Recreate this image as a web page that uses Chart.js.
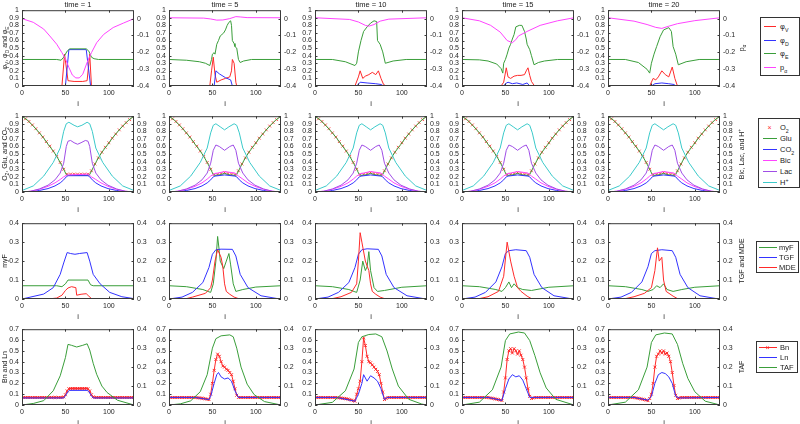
<!DOCTYPE html>
<html><head><meta charset="utf-8">
<script src="https://cdn.jsdelivr.net/npm/chart.js@4.4.0/dist/chart.umd.min.js"></script>
<style>
body{margin:0;background:#fff;width:800px;height:424px;overflow:hidden;position:relative;font-family:"Liberation Sans",Arial,sans-serif;}
canvas{position:absolute;}
.ttl{position:absolute;font-size:7.5px;color:#1a1a1a;text-align:center;width:112px;line-height:9px;}
.yl{position:absolute;font-size:7px;color:#1a1a1a;white-space:nowrap;transform:translate(-50%,-50%) rotate(-90deg);line-height:8px;}
.lg{position:absolute;border:1px solid #333;background:#fff;font-size:7.5px;color:#1a1a1a;box-sizing:border-box;}
.lg .e{position:absolute;left:0;height:9px;line-height:9px;white-space:nowrap;}
.lg .s{position:absolute;top:4px;height:1px;}
.lg .t{position:absolute;top:0;}
sub,sup{font-size:70%;line-height:0;}
</style></head><body>
<script>
// ---------- tick labels ----------
const xTicks = [0, 50, 100];
const ticks01 = [0, 0.1, 0.2, 0.3, 0.4, 0.5, 0.6, 0.7, 0.8, 0.9, 1];
const ticksP = [-0.4, -0.3, -0.2, -0.1, 0];
const ticks04 = [0, 0.1, 0.2, 0.3, 0.4];
const ticks07 = [0, 0.1, 0.2, 0.3, 0.4, 0.5, 0.6, 0.7];
const times = ['time = 1', 'time = 5', 'time = 10', 'time = 15', 'time = 20'];

// ---------- row 1: phiV, phiD, phiE (left), p_alpha (right) ----------
const phiV_t1 = [[0,0],[46,0],[49,0.42],[53,0.07],[60,0.06],[70,0.06],[75,0.07],[78,0.42],[80,0],[129,0]];
const phiD_t1 = [[0,0],[50,0],[54,0.48],[74,0.48],[79,0],[129,0]];
const phiE_t1 = [[0,0.35],[40,0.35],[45,0.34],[48,0.38],[52,0.46],[55,0.49],[74,0.49],[77,0.46],[80,0.38],[83,0.36],[88,0.35],[129,0.35]];
const pa_t1 = [[0,0.0],[13,-0.022],[25,-0.062],[32,-0.103],[40,-0.152],[46,-0.202],[50,-0.238],[54,-0.29],[58,-0.335],[62,-0.352],[66,-0.352],[70,-0.33],[75,-0.26],[80,-0.202],[86,-0.143],[94,-0.094],[105,-0.053],[117,-0.026],[129,0.0]];

const phiV_t5 = [[0,0],[47,0],[49,0.2],[51,0.38],[53,0.15],[55,0.05],[60,0.08],[65,0.1],[70,0.12],[72,0.2],[73,0.35],[75,0.3],[77,0.05],[78,0],[129,0]];
const phiD_t5 = [[0,0],[52,0],[54,0.2],[58,0.16],[65,0.11],[71,0.08],[73,0],[129,0]];
const phiE_t5 = [[0,0.35],[20,0.34],[35,0.32],[42,0.3],[47,0.27],[49,0.35],[50,0.42],[52,0.44],[53,0.42],[55,0.55],[57,0.6],[59,0.66],[61,0.68],[63,0.7],[65,0.74],[67,0.8],[69,0.84],[71,0.86],[72,0.8],[73,0.6],[75,0.56],[76,0.52],[78,0.5],[80,0.35],[82,0.31],[86,0.33],[95,0.35],[129,0.35]];
const pa_t5 = [[0,0.005],[40,0.003],[48,-0.002],[55,-0.009],[62,-0.008],[70,0.0],[77,0.012],[82,0.01],[90,0.006],[129,0.005]];

const phiV_t10 = [[0,0],[46,0],[50,0.12],[52,0.2],[55,0.1],[58,0.13],[62,0.15],[66,0.18],[70,0.15],[73,0.2],[76,0.1],[79,0.02],[82,0],[129,0]];
const phiD_t10 = [[0,0],[48,0],[52,0.05],[60,0.04],[70,0.03],[76,0.02],[79,0],[129,0]];
const phiE_t10 = [[0,0.35],[20,0.35],[35,0.32],[46,0.27],[48,0.3],[50,0.45],[53,0.6],[56,0.72],[60,0.78],[64,0.83],[68,0.86],[71,0.85],[72,0.6],[75,0.55],[78,0.45],[81,0.3],[90,0.33],[105,0.35],[129,0.35]];
const pa_t10 = [[0,0.005],[40,-0.005],[50,-0.02],[58,-0.04],[62,-0.045],[68,-0.035],[75,-0.015],[85,-0.003],[129,0.005]];

const phiV_t15 = [[0,0],[45,0],[48,0.05],[51,0.24],[53,0.12],[56,0.1],[60,0.13],[64,0.14],[68,0.14],[72,0.15],[74,0.2],[76,0.24],[78,0.14],[80,0.06],[83,0.01],[84,0],[129,0]];
const phiD_t15 = [[0,0],[48,0],[50,0.03],[53,0.05],[58,0.03],[63,0.04],[70,0.02],[75,0.04],[78,0],[129,0]];
const phiE_t15 = [[0,0.35],[20,0.345],[30,0.33],[40,0.29],[45,0.23],[47,0.17],[48,0.3],[50,0.35],[52,0.42],[54,0.5],[56,0.55],[58,0.62],[60,0.68],[62,0.78],[66,0.8],[69,0.8],[72,0.72],[74,0.62],[75,0.55],[78,0.48],[80,0.4],[83,0.28],[88,0.31],[95,0.33],[110,0.35],[129,0.35]];
const pa_t15 = [[0,0.005],[20,-0.013],[33,-0.04],[44,-0.08],[52,-0.13],[58,-0.143],[62,-0.125],[65,-0.103],[75,-0.076],[90,-0.04],[110,-0.013],[129,0.005]];

const phiV_t20 = [[0,0],[48,0],[52,0.1],[55,0.08],[58,0.12],[62,0.2],[66,0.15],[70,0.12],[74,0.25],[77,0.1],[80,0],[129,0]];
const phiD_t20 = [[0,0],[50,0],[54,0.03],[62,0.04],[70,0.03],[76,0.02],[78,0],[129,0]];
const phiE_t20 = [[0,0.35],[20,0.35],[35,0.31],[45,0.22],[48,0.17],[50,0.3],[53,0.42],[56,0.52],[60,0.65],[64,0.74],[70,0.77],[73,0.72],[75,0.52],[78,0.42],[81,0.28],[90,0.32],[105,0.35],[129,0.35]];
const pa_t20 = [[0,0.005],[30,-0.015],[45,-0.035],[55,-0.052],[62,-0.058],[70,-0.045],[80,-0.03],[100,-0.012],[129,0.005]];

// ---------- row 2: O2, Glu, CO2 (left), Bic, Lac, H+ (right) ----------
const I4 = [0,4,8,12,16,20,24,28,32,36,40,44,48,52,56,60,64,68,72,76,80,84,88,92,96,100,104,108,112,116,120,124,128];
const O2_t1  = [1.0,0.965,0.93,0.885,0.835,0.78,0.725,0.665,0.605,0.54,0.47,0.39,0.3,0.235,0.235,0.235,0.235,0.235,0.235,0.235,0.28,0.37,0.45,0.525,0.59,0.65,0.71,0.765,0.82,0.87,0.915,0.955,0.995];
const O2_t5  = [1.0,0.965,0.93,0.885,0.835,0.78,0.725,0.665,0.605,0.54,0.47,0.39,0.3,0.23,0.235,0.245,0.255,0.245,0.235,0.23,0.28,0.37,0.45,0.525,0.59,0.65,0.71,0.765,0.82,0.87,0.915,0.955,0.995];
const O2_t10 = [1.0,0.965,0.93,0.885,0.835,0.78,0.725,0.665,0.605,0.54,0.47,0.39,0.3,0.23,0.235,0.245,0.255,0.245,0.235,0.23,0.28,0.37,0.45,0.525,0.59,0.65,0.71,0.765,0.82,0.87,0.915,0.955,0.995];
const O2_t15 = [1.0,0.965,0.93,0.885,0.835,0.78,0.725,0.665,0.605,0.54,0.47,0.39,0.3,0.23,0.235,0.245,0.255,0.245,0.235,0.23,0.28,0.37,0.45,0.525,0.59,0.65,0.71,0.765,0.82,0.87,0.915,0.955,0.995];
const O2_t20 = [1.0,0.965,0.93,0.885,0.835,0.78,0.725,0.665,0.605,0.54,0.47,0.39,0.3,0.23,0.235,0.245,0.255,0.245,0.235,0.23,0.28,0.37,0.45,0.525,0.59,0.65,0.71,0.765,0.82,0.87,0.915,0.955,0.995];

const Glu_t1 = [[0,1.0],[6,0.95],[13,0.87],[20,0.78],[25,0.71],[30,0.63],[36,0.54],[40,0.47],[44,0.39],[48,0.3],[51,0.23],[53,0.22],[76,0.22],[78,0.23],[81,0.3],[85,0.39],[89,0.47],[93,0.54],[99,0.63],[104,0.71],[109,0.78],[116,0.87],[123,0.95],[129,1.0]];
const Glu_t5 = [[0,1.0],[6,0.95],[13,0.87],[20,0.78],[25,0.71],[30,0.63],[36,0.54],[40,0.47],[44,0.39],[48,0.3],[51,0.23],[53,0.22],[58,0.225],[64,0.245],[70,0.225],[76,0.22],[78,0.23],[81,0.3],[85,0.39],[89,0.47],[93,0.54],[99,0.63],[104,0.71],[109,0.78],[116,0.87],[123,0.95],[129,1.0]];
const Glu_t10 = Glu_t5.map(p => p.slice());
const Glu_t15 = Glu_t5.map(p => p.slice());
const Glu_t20 = Glu_t5.map(p => p.slice());

const CO2_t1 = [[0,0],[10,0.005],[20,0.02],[30,0.045],[38,0.08],[44,0.12],[48,0.16],[51,0.2],[53,0.215],[76,0.215],[78,0.2],[81,0.16],[85,0.12],[91,0.08],[99,0.045],[109,0.02],[119,0.005],[129,0]];
const CO2_t5 = [[0,0],[10,0.005],[20,0.02],[30,0.045],[38,0.08],[44,0.12],[48,0.16],[51,0.2],[53,0.21],[64,0.225],[76,0.21],[78,0.2],[81,0.16],[85,0.12],[91,0.08],[99,0.045],[109,0.02],[119,0.005],[129,0]];
const CO2_t10 = CO2_t5, CO2_t15 = CO2_t5, CO2_t20 = CO2_t5;

const Bic_t1 = [[0,0],[10,0.01],[20,0.035],[30,0.075],[38,0.12],[44,0.165],[48,0.2],[52,0.225],[64,0.23],[76,0.235],[80,0.2],[85,0.165],[91,0.12],[99,0.075],[109,0.035],[119,0.01],[129,0]];
const Bic_t5 = [[0,0],[10,0.01],[20,0.035],[30,0.075],[38,0.12],[44,0.17],[48,0.21],[52,0.24],[64,0.27],[76,0.25],[80,0.21],[85,0.17],[91,0.12],[99,0.075],[109,0.035],[119,0.01],[129,0]];
const Bic_t10 = Bic_t5, Bic_t15 = Bic_t5, Bic_t20 = Bic_t5;

const Lac_t1 = [[0,0],[10,0.01],[20,0.04],[30,0.09],[38,0.16],[44,0.25],[48,0.38],[51,0.6],[53,0.67],[56,0.68],[60,0.65],[64,0.63],[68,0.65],[73,0.68],[76,0.67],[78,0.6],[81,0.38],[85,0.25],[91,0.16],[99,0.09],[109,0.04],[119,0.01],[129,0]];
const Lac_t5 = [[0,0],[10,0.01],[20,0.04],[30,0.09],[38,0.16],[44,0.25],[48,0.38],[51,0.55],[54,0.62],[58,0.6],[64,0.55],[70,0.6],[74,0.62],[77,0.55],[80,0.38],[85,0.25],[91,0.16],[99,0.09],[109,0.04],[119,0.01],[129,0]];
const Lac_t10 = Lac_t5, Lac_t15 = Lac_t5, Lac_t20 = Lac_t5;

const H_t1 = [[0,0.02],[13,0.08],[25,0.21],[36,0.39],[44,0.58],[48,0.8],[51,0.9],[54,0.92],[60,0.88],[64,0.86],[69,0.88],[75,0.92],[78,0.9],[81,0.8],[85,0.58],[93,0.39],[104,0.21],[116,0.08],[129,0.02]];
const H_t5 = [[0,0.02],[13,0.08],[25,0.21],[36,0.39],[44,0.58],[48,0.78],[51,0.88],[54,0.9],[59,0.86],[64,0.82],[69,0.86],[75,0.9],[78,0.88],[81,0.78],[85,0.58],[93,0.39],[104,0.21],[116,0.08],[129,0.02]];
const H_t10 = H_t5, H_t15 = H_t5, H_t20 = H_t5;

// ---------- row 3: myF (left), TGF, MDE (right) ----------
const myF_t1 = [[0,0.07],[40,0.07],[46,0.065],[50,0.08],[53,0.1],[76,0.1],[79,0.075],[82,0.07],[129,0.07]];
const TGF_t1 = [[0,0],[25,0.026],[36,0.06],[44,0.13],[48,0.19],[52,0.245],[56,0.24],[61,0.236],[66,0.24],[75,0.245],[78,0.2],[82,0.13],[90,0.08],[101,0.035],[115,0.012],[129,0.002]];
const MDE_t1 = [[0,0],[30,0],[40,0.005],[46,0.02],[50,0.045],[53,0.058],[57,0.065],[62,0.06],[63,0.02],[68,0.025],[74,0.028],[77,0.015],[80,0.002],[129,0]];

const myF_t5 = [[0,0.07],[20,0.065],[39,0.05],[46,0.038],[48,0.035],[51,0.08],[54,0.2],[56,0.33],[58,0.25],[59,0.2],[63,0.16],[66,0.2],[69,0.24],[71,0.18],[74,0.08],[77,0.04],[85,0.05],[100,0.063],[129,0.07]];
const TGF_t5 = [[0,0],[15,0.01],[27,0.035],[39,0.087],[46,0.166],[50,0.236],[54,0.26],[60,0.263],[73,0.262],[77,0.227],[82,0.13],[91,0.06],[106,0.017],[125,0.002],[129,0]];
const MDE_t5 = [[0,0],[20,0.002],[27,0.01],[42,0.03],[48,0.06],[50,0.1],[53,0.2],[56,0.26],[60,0.22],[62,0.17],[64,0.08],[66,0.04],[70,0.025],[75,0.01],[80,0.002],[129,0]];

const myF_t10 = [[0,0.07],[20,0.065],[39,0.05],[46,0.038],[48,0.035],[52,0.1],[55,0.2],[58,0.15],[60,0.17],[62,0.25],[64,0.15],[68,0.06],[72,0.04],[80,0.045],[100,0.062],[129,0.07]];
const TGF_t10 = [[0,0],[15,0.01],[27,0.035],[39,0.087],[46,0.166],[50,0.236],[54,0.26],[60,0.265],[73,0.262],[77,0.227],[82,0.13],[91,0.06],[106,0.017],[125,0.002],[129,0]];
const MDE_t10 = [[0,0],[20,0.002],[30,0.012],[42,0.035],[48,0.08],[50,0.2],[52,0.35],[54,0.3],[58,0.2],[62,0.15],[64,0.08],[66,0.04],[70,0.025],[75,0.01],[80,0.002],[129,0]];

const myF_t15 = [[0,0.07],[20,0.065],[39,0.05],[46,0.04],[50,0.06],[54,0.09],[57,0.06],[60,0.08],[64,0.06],[70,0.05],[80,0.045],[100,0.062],[129,0.07]];
const TGF_t15 = [[0,0],[15,0.01],[27,0.035],[39,0.09],[46,0.17],[50,0.24],[54,0.255],[62,0.26],[74,0.255],[78,0.22],[83,0.13],[92,0.06],[106,0.017],[125,0.002],[129,0]];
const MDE_t15 = [[0,0],[20,0.002],[30,0.012],[42,0.04],[48,0.12],[52,0.3],[54,0.25],[56,0.2],[60,0.12],[64,0.06],[68,0.04],[75,0.015],[80,0.002],[129,0]];

const myF_t20 = [[0,0.07],[20,0.065],[39,0.05],[46,0.04],[52,0.05],[56,0.07],[60,0.06],[64,0.08],[68,0.05],[75,0.04],[85,0.05],[100,0.062],[129,0.07]];
const TGF_t20 = [[0,0],[15,0.01],[27,0.035],[39,0.09],[46,0.17],[50,0.24],[54,0.255],[62,0.26],[74,0.255],[78,0.22],[83,0.13],[92,0.06],[106,0.017],[125,0.002],[129,0]];
const MDE_t20 = [[0,0],[20,0.002],[30,0.012],[42,0.03],[50,0.06],[54,0.15],[57,0.27],[59,0.2],[62,0.22],[64,0.1],[67,0.04],[75,0.015],[80,0.002],[129,0]];

// ---------- row 4: Bn, Ln (left), TAF (right) ----------
const I2 = [0,2,4,6,8,10,12,14,16,18,20,22,24,26,28,30,32,34,36,38,40,42,44,46,48,50,52,54,56,58,60,62,64,66,68,70,72,74,76,78,80,82,84,86,88,90,92,94,96,98,100,102,104,106,108,110,112,114,116,118,120,122,124,126,128];
const Bn_t1 = [0.07,0.07,0.07,0.07,0.07,0.07,0.07,0.07,0.07,0.07,0.07,0.07,0.07,0.07,0.07,0.07,0.07,0.07,0.07,0.07,0.07,0.07,0.07,0.07,
  0.075,0.095,0.13,0.15,0.152,0.153,0.153,0.153,0.153,0.153,0.153,0.153,0.153,0.153,0.15,0.13,0.095,0.075,
  0.07,0.07,0.07,0.07,0.07,0.07,0.07,0.07,0.07,0.07,0.07,0.07,0.07,0.07,0.07,0.07,0.07,0.07,0.07,0.07,0.07,0.07,0.07];
const Bn_t5 = [0.07,0.07,0.07,0.07,0.07,0.07,0.07,0.07,0.07,0.07,0.07,0.07,0.07,0.07,0.07,0.07,
  0.068,0.066,0.064,0.062,0.06,0.057,0.053,0.05,
  0.1,0.2,0.32,0.42,0.47,0.45,0.4,0.36,0.35,0.33,0.32,0.3,0.28,0.22,0.15,0.09,0.07,0.07,
  0.07,0.07,0.07,0.07,0.07,0.07,0.07,0.07,0.07,0.07,0.07,0.07,0.07,0.07,0.07,0.07,0.07,0.07,0.07,0.07,0.07,0.07,0.07];
const Bn_t10 = [0.07,0.07,0.07,0.07,0.07,0.07,0.07,0.07,0.07,0.07,0.07,0.07,0.07,
  0.068,0.066,0.064,0.062,0.06,0.057,0.054,0.05,0.045,0.04,0.035,
  0.1,0.15,0.22,0.4,0.62,0.55,0.45,0.4,0.39,0.37,0.35,0.33,0.31,0.28,0.2,0.12,0.05,0.06,
  0.07,0.07,0.07,0.07,0.07,0.07,0.07,0.07,0.07,0.07,0.07,0.07,0.07,0.07,0.07,0.07,0.07,0.07,0.07,0.07,0.07,0.07,0.07];
const Bn_t15 = [0.07,0.07,0.07,0.07,0.07,0.07,0.07,0.07,0.07,0.07,0.07,0.07,0.07,0.07,0.07,0.07,
  0.066,0.063,0.06,0.057,0.054,0.05,0.046,0.042,
  0.12,0.25,0.42,0.5,0.52,0.48,0.52,0.5,0.47,0.5,0.46,0.42,0.35,0.25,0.15,0.08,0.06,0.065,
  0.07,0.07,0.07,0.07,0.07,0.07,0.07,0.07,0.07,0.07,0.07,0.07,0.07,0.07,0.07,0.07,0.07,0.07,0.07,0.07,0.07,0.07,0.07];
const Bn_t20 = [0.07,0.07,0.07,0.07,0.07,0.07,0.07,0.07,0.07,0.07,0.07,0.07,0.07,0.07,0.07,0.07,
  0.066,0.063,0.06,0.057,0.054,0.05,0.045,0.04,
  0.06,0.1,0.2,0.35,0.45,0.47,0.5,0.48,0.5,0.47,0.48,0.45,0.4,0.3,0.18,0.09,0.06,0.065,
  0.07,0.07,0.07,0.07,0.07,0.07,0.07,0.07,0.07,0.07,0.07,0.07,0.07,0.07,0.07,0.07,0.07,0.07,0.07,0.07,0.07,0.07,0.07];

const Ln_t1 = [[0,0.065],[48,0.065],[50,0.085],[53,0.125],[55,0.135],[75,0.135],[77,0.125],[80,0.085],[82,0.065],[129,0.065]];
const Ln_t5 = [[0,0.07],[30,0.07],[46,0.05],[48,0.08],[52,0.2],[55,0.28],[57,0.3],[60,0.26],[64,0.24],[68,0.25],[72,0.22],[76,0.13],[80,0.07],[129,0.07]];
const Ln_t10 = [[0,0.07],[25,0.07],[46,0.035],[50,0.1],[54,0.2],[56,0.28],[60,0.22],[64,0.27],[68,0.25],[72,0.22],[76,0.15],[80,0.05],[83,0.07],[129,0.07]];
const Ln_t15 = [[0,0.07],[30,0.07],[46,0.042],[50,0.15],[54,0.24],[58,0.28],[62,0.26],[66,0.27],[70,0.23],[74,0.15],[78,0.07],[129,0.07]];
const Ln_t20 = [[0,0.07],[30,0.07],[46,0.045],[50,0.08],[54,0.2],[58,0.28],[62,0.3],[66,0.29],[70,0.26],[74,0.2],[78,0.08],[82,0.065],[129,0.07]];

const TAF_t1 = [[0,0],[13,0.008],[25,0.023],[36,0.075],[44,0.154],[50,0.25],[53,0.32],[57,0.315],[63,0.306],[70,0.315],[75,0.323],[78,0.29],[82,0.22],[86,0.162],[92,0.1],[98,0.066],[110,0.025],[129,0]];
const TAF_t5 = [[0,0],[13,0.006],[25,0.022],[36,0.07],[44,0.16],[50,0.3],[54,0.35],[60,0.365],[70,0.37],[74,0.36],[78,0.3],[83,0.2],[90,0.11],[98,0.055],[110,0.018],[129,0]];
const TAF_t10 = [[0,0],[20,0.014],[35,0.075],[45,0.19],[50,0.33],[54,0.36],[62,0.372],[70,0.375],[77,0.36],[83,0.285],[89,0.19],[96,0.1],[108,0.03],[123,0.005],[129,0]];
const TAF_t15 = [[0,0],[20,0.015],[35,0.08],[45,0.2],[50,0.34],[55,0.375],[65,0.385],[72,0.38],[78,0.34],[84,0.26],[90,0.17],[97,0.09],[108,0.03],[129,0]];
const TAF_t20 = [[0,0],[20,0.015],[35,0.08],[45,0.2],[50,0.33],[55,0.37],[65,0.38],[74,0.375],[80,0.32],[86,0.22],[92,0.14],[100,0.07],[112,0.02],[129,0]];

// ---------- drawing ----------
const RED='#ff2a2a', BLUE='#3333ff', GREEN='#3a9e3a', MAG='#ff44ff', PURP='#a04ee6', CYAN='#3ccaca';
const COLX=[22,169,315,462,608], ROWY=[9,115,222,328];
const PW=112, PH=77, PADL=24, PADR=26, PADT=6, PADB=24;
const FONT={family:'"Liberation Sans", Arial, sans-serif', size:7};
const TXT='#262626';

const frame = {
  id:'frame',
  afterDraw(chart){
    const ctx=chart.ctx, a=chart.chartArea;
    ctx.save();
    ctx.strokeStyle='#3a3a3a'; ctx.lineWidth=1;
    ctx.strokeRect(a.left+0.5,a.top+0.5,a.right-a.left-1,a.bottom-a.top-1);
    ctx.beginPath();
    const tl=2.5;
    const sx=chart.scales.x;
    sx.ticks.forEach(t=>{const p=Math.round(sx.getPixelForValue(t.value))+0.5; ctx.moveTo(p,a.bottom); ctx.lineTo(p,a.bottom-tl); ctx.moveTo(p,a.top); ctx.lineTo(p,a.top+tl);});
    const yl=chart.scales.yL;
    yl.ticks.forEach(t=>{const p=Math.round(yl.getPixelForValue(t.value))+0.5; ctx.moveTo(a.left,p); ctx.lineTo(a.left+tl,p);});
    const yr=chart.scales.yR;
    yr.ticks.forEach(t=>{const p=Math.round(yr.getPixelForValue(t.value))+0.5; ctx.moveTo(a.right,p); ctx.lineTo(a.right-tl,p);});
    ctx.stroke();
    ctx.restore();
  }
};

function yScale(pos,min,max,ticks,w){
  return {type:'linear',position:pos,min,max,
    afterBuildTicks:s=>{s.ticks=ticks.map(v=>({value:v}));},
    afterFit:s=>{s.width=w;},
    grid:{display:false,drawTicks:false},border:{display:false},
    ticks:{font:FONT,color:TXT,padding:3,autoSkip:false,callback:v=>String(v)}};
}

function chart(col,row,datasets,yl,yr){
  const c=document.createElement('canvas');
  c.width=PADL+PW+PADR; c.height=PADT+PH+PADB;
  c.style.left=(COLX[col]-PADL)+'px'; c.style.top=(ROWY[row]-PADT)+'px';
  document.body.appendChild(c);
  new Chart(c,{type:'line',data:{datasets},
    options:{responsive:false,animation:false,devicePixelRatio:1,
      layout:{padding:{top:PADT,left:0,right:0,bottom:0}},
      plugins:{legend:{display:false},tooltip:{enabled:false}},
      elements:{line:{borderWidth:1,tension:0},point:{radius:0}},
      scales:{
        x:{type:'linear',min:0,max:129,
          afterBuildTicks:s=>{s.ticks=xTicks.map(v=>({value:v}));},
          afterFit:s=>{s.height=PADB;},
          grid:{display:false,drawTicks:false},border:{display:false},
          ticks:{font:FONT,color:TXT,padding:3,maxRotation:0,autoSkip:false,callback:v=>String(v)},
          title:{display:true,text:'i',font:{family:FONT.family,size:7.5},color:TXT,padding:{top:0,bottom:2}}},
        yL:yScale('left',yl[0],yl[1],yl[2],PADL),
        yR:yScale('right',yr[0],yr[1],yr[2],PADR)
      }},
    plugins:[frame]});
}

function ln(data,color,axis){return {data,borderColor:color,backgroundColor:color,yAxisID:axis,pointRadius:0,borderWidth:1,fill:false};}
function grid(xs,ys){return xs.map((x,k)=>({x,y:ys[k]}));}

const R1=[[phiV_t1,phiD_t1,phiE_t1,pa_t1],[phiV_t5,phiD_t5,phiE_t5,pa_t5],[phiV_t10,phiD_t10,phiE_t10,pa_t10],[phiV_t15,phiD_t15,phiE_t15,pa_t15],[phiV_t20,phiD_t20,phiE_t20,pa_t20]];
const R2=[[O2_t1,Glu_t1,CO2_t1,Bic_t1,Lac_t1,H_t1],[O2_t5,Glu_t5,CO2_t5,Bic_t5,Lac_t5,H_t5],[O2_t10,Glu_t10,CO2_t10,Bic_t10,Lac_t10,H_t10],[O2_t15,Glu_t15,CO2_t15,Bic_t15,Lac_t15,H_t15],[O2_t20,Glu_t20,CO2_t20,Bic_t20,Lac_t20,H_t20]];
const R3=[[myF_t1,TGF_t1,MDE_t1],[myF_t5,TGF_t5,MDE_t5],[myF_t10,TGF_t10,MDE_t10],[myF_t15,TGF_t15,MDE_t15],[myF_t20,TGF_t20,MDE_t20]];
const R4=[[Bn_t1,Ln_t1,TAF_t1],[Bn_t5,Ln_t5,TAF_t5],[Bn_t10,Ln_t10,TAF_t10],[Bn_t15,Ln_t15,TAF_t15],[Bn_t20,Ln_t20,TAF_t20]];

for(let c=0;c<5;c++){
  const [v,d,e,p]=R1[c];
  chart(c,0,[ln(p,MAG,'yR'),ln(e,GREEN,'yL'),ln(d,BLUE,'yL'),ln(v,RED,'yL')],[0,1,ticks01],[-0.4,0.05,ticksP]);
  const [o,g,co,b,la,h]=R2[c];
  const o2={data:grid(I4,o),showLine:false,borderColor:RED,backgroundColor:RED,yAxisID:'yL',pointStyle:'crossRot',pointRadius:2,borderWidth:0.8};
  chart(c,1,[ln(h,CYAN,'yR'),ln(la,PURP,'yR'),ln(b,MAG,'yR'),ln(co,BLUE,'yL'),ln(g,GREEN,'yL'),o2],[0,1,ticks01],[0,1,ticks01]);
  const [m,tg,md]=R3[c];
  chart(c,2,[ln(md,RED,'yR'),ln(tg,BLUE,'yR'),ln(m,GREEN,'yL')],[0,0.4,ticks04],[0,0.4,ticks04]);
  const [bn,l,ta]=R4[c];
  const bnd={data:grid(I2,bn),borderColor:RED,backgroundColor:RED,yAxisID:'yL',pointStyle:'crossRot',pointRadius:2,borderWidth:1};
  chart(c,3,[ln(ta,GREEN,'yR'),ln(l,BLUE,'yL'),bnd],[0,0.7,ticks07],[0,0.4,ticks04]);
}

// titles
function div(cls,html,style){const d=document.createElement('div');d.className=cls;d.innerHTML=html;Object.assign(d.style,style);document.body.appendChild(d);return d;}
for(let c=0;c<5;c++) div('ttl',times[c],{left:COLX[c]+'px',top:'0px'});

// y labels
const leftLabels=['φ<sub>V</sub>, φ<sub>D</sub> and φ<sub>E</sub>','O<sub>2</sub>, Glu, and CO<sub>2</sub>','myF','Bn and Ln'];
const rightLabels=['p<sub>α</sub>','Bic, Lac, and H<sup>+</sup>','TGF and MDE','TAF'];
for(let r=0;r<4;r++){
  div('yl',leftLabels[r],{left:'5px',top:(ROWY[r]+PH/2)+'px'});
  div('yl',rightLabels[r],{left:'742px',top:(ROWY[r]+PH/2)+'px'});
}

// legends
function legend(x,y,w,h,entries,gap,first,ls,le,tx){
  const box=div('lg','',{left:x+'px',top:y+'px',width:w+'px',height:h+'px'});
  entries.forEach((e,k)=>{
    const d=document.createElement('div');d.className='e';d.style.top=(first+k*gap)+'px';d.style.width=w+'px';
    let s='';
    if(e.line) s+=`<div class="s" style="left:${ls}px;width:${le-ls}px;background:${e.color}"></div>`;
    if(e.mark) s+=`<div style="position:absolute;left:${(ls+le)/2-2.5}px;top:-0.5px;color:${e.color};font-size:7px;line-height:9px;">×</div>`;
    s+=`<div class="t" style="left:${tx}px">${e.label}</div>`;
    d.innerHTML=s;box.appendChild(d);
  });
}
legend(760,17,40,59,[{line:1,color:RED,label:'φ<sub>V</sub>'},{line:1,color:BLUE,label:'φ<sub>D</sub>'},{line:1,color:GREEN,label:'φ<sub>E</sub>'},{line:1,color:MAG,label:'p<sub>α</sub>'}],13.5,4,3,15,19);
legend(758,118,42,70,[{mark:1,color:RED,label:'O<sub>2</sub>'},{line:1,color:GREEN,label:'Glu'},{line:1,color:BLUE,label:'CO<sub>2</sub>'},{line:1,color:MAG,label:'Bic'},{line:1,color:PURP,label:'Lac'},{line:1,color:CYAN,label:'H<sup>+</sup>'}],11,4,4,18,21);
legend(756,241,43,32,[{line:1,color:GREEN,label:'myF'},{line:1,color:BLUE,label:'TGF'},{line:1,color:RED,label:'MDE'}],10,1,2,20,22);
legend(756,341,42,32,[{line:1,mark:1,color:RED,label:'Bn'},{line:1,color:BLUE,label:'Ln'},{line:1,color:GREEN,label:'TAF'}],10,1,2,20,23);
</script>
</body></html>
